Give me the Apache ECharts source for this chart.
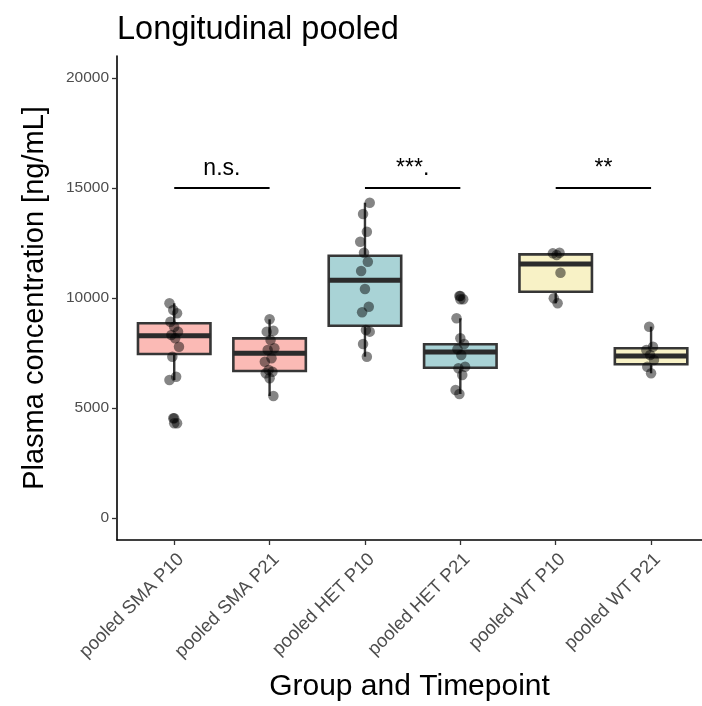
<!DOCTYPE html>
<html>
<head>
<meta charset="utf-8">
<script src="https://cdn.jsdelivr.net/npm/echarts@6/dist/echarts.min.js"></script>
<style>
  html, body { margin: 0; padding: 0; background: #ffffff; }
  #chart { width: 702px; height: 706px; }
</style>
</head>
<body>
<div id="chart"></div>
<script>
// Groups along the x axis
const categories = [
  'pooled SMA P10', 'pooled SMA P21',
  'pooled HET P10', 'pooled HET P21',
  'pooled WT P10', 'pooled WT P21'
];

// Individual plasma concentrations (ng/mL) per group
const smaP10 = [9758, 9454, 9303, 8924, 8697, 8470, 8318, 8167, 7788, 7333, 6424, 6273, 4531, 4304];
const smaP21 = [9031, 8515, 8470, 8090, 7712, 7636, 7258, 7106, 6727, 6651, 6576, 6349, 5545];
const hetP10 = [14331, 13817, 13013, 12558, 12058, 11649, 11226, 10408, 9603, 9349, 8545, 8470, 7908, 7333];
const hetP21 = [10090, 9940, 9076, 8167, 7908, 7667, 7408, 6878, 6803, 6500, 5818, 5636];
const wtP10  = [12058, 12030, 11953, 11149, 9985, 9758];
const wtP21  = [8697, 7788, 7636, 7408, 7181, 6878, 6577];
const groupValues = [smaP10, smaP21, hetP10, hetP21, wtP10, wtP21];

// Box summaries per group
const whiskerLow  = [6273, 5545, 7333, 5636, 9758, 6577];
const q1Values    = [7454, 6681, 8740, 6831, 10285, 6986];
const medianValues = [8286, 7485, 10803, 7545, 11544, 7363];
const q3Values    = [8849, 8167, 11922, 7895, 11985, 7713];
const whiskerHigh = [9758, 9031, 14331, 9076, 12058, 8697];

// Pairwise comparisons drawn above the boxes
const comparisonPairs = [[1, 2], [3, 4], [5, 6]];
const comparisonLabels = ['n.s.', '***.', '**'];
const comparisonLevel = 15000;

// Y axis ticks
const yTicks = [0, 5000, 10000, 15000, 20000];

const boxFills = ['#fbbab5', '#fbbab5', '#a9d3d6', '#a9d3d6', '#f8f2c6', '#f8f2c6'];
const FONT = '"Liberation Sans", Arial, sans-serif';
const BOX_HALF = 0.38;

const xPositions = categories.map((c, i) => i + 1);

const boxData = categories.map((c, i) => [
  i + 1, whiskerLow[i], q1Values[i], medianValues[i], q3Values[i], whiskerHigh[i]
]);

// outliers: observations beyond the whisker ends, drawn at the box centre
const outlierData = [];
groupValues.forEach((vals, i) => {
  vals.forEach(v => {
    if (v < whiskerLow[i] || v > whiskerHigh[i]) outlierData.push([i + 1, v]);
  });
});

// horizontal spread of the individual points (deterministic jitter)
const pointData = [];
groupValues.forEach((vals, i) => {
  vals.forEach((v, k) => {
    const offset = (((k * 37 + i * 5) % 11) - 5) / 100;
    pointData.push([i + 1 + offset, v]);
  });
});

const comparisonData = comparisonPairs.map((p, i) => [p[0], p[1], comparisonLevel, i]);

function renderBox(params, api) {
  const x = api.value(0);
  const lo = api.value(1), q1 = api.value(2), med = api.value(3), q3 = api.value(4), hi = api.value(5);
  const pHi = api.coord([x, hi]);
  const pLo = api.coord([x, lo]);
  const tl = api.coord([x - BOX_HALF, q3]);
  const br = api.coord([x + BOX_HALF, q1]);
  const mL = api.coord([x - BOX_HALF, med]);
  const mR = api.coord([x + BOX_HALF, med]);
  const stroke = '#363636';
  return {
    type: 'group',
    children: [
      { type: 'line', shape: { x1: pHi[0], y1: pHi[1], x2: pHi[0], y2: tl[1] },
        style: { stroke: stroke, lineWidth: 2.4 } },
      { type: 'line', shape: { x1: pLo[0], y1: br[1], x2: pLo[0], y2: pLo[1] },
        style: { stroke: stroke, lineWidth: 2.4 } },
      { type: 'rect', shape: { x: tl[0], y: tl[1], width: br[0] - tl[0], height: br[1] - tl[1] },
        style: { fill: boxFills[params.dataIndex], stroke: stroke, lineWidth: 2.6 } },
      { type: 'line', shape: { x1: mL[0], y1: mL[1], x2: mR[0], y2: mR[1] },
        style: { stroke: '#2b2b2b', lineWidth: 5 } }
    ]
  };
}

function renderComparison(params, api) {
  const a = api.coord([api.value(0), api.value(2)]);
  const b = api.coord([api.value(1), api.value(2)]);
  const label = comparisonLabels[api.value(3)];
  return {
    type: 'group',
    children: [
      { type: 'line', shape: { x1: a[0], y1: a[1], x2: b[0], y2: b[1] },
        style: { stroke: '#000', lineWidth: 2 } },
      { type: 'text', x: (a[0] + b[0]) / 2, y: a[1] - 8,
        style: { text: label, fill: '#000', font: '23px ' + FONT, align: 'center', verticalAlign: 'bottom' } }
    ]
  };
}

const chart = echarts.init(document.getElementById('chart'), null, { renderer: 'canvas' });

chart.setOption({
  animation: false,
  backgroundColor: '#ffffff',
  textStyle: { fontFamily: FONT },
  title: {
    text: 'Longitudinal pooled',
    left: 112,
    top: 9,
    textStyle: { fontSize: 32.5, fontWeight: 'normal', color: '#000', fontFamily: FONT }
  },
  grid: { left: 117, right: 0, top: 56, bottom: 166, containLabel: false, outerBoundsMode: 'none' },
  xAxis: {
    type: 'value',
    min: 0.4,
    max: 6.534,
    splitLine: { show: false },
    axisLine: { show: true, onZero: false, lineStyle: { color: '#000', width: 1.6 } },
    axisTick: { show: true, customValues: xPositions, length: 5, lineStyle: { color: '#333', width: 1.3 } },
    axisLabel: {
      customValues: xPositions,
      formatter: v => categories[Math.round(v) - 1],
      rotate: 45,
      fontSize: 18.5,
      color: '#4d4d4d',
      margin: 10,
      verticalAlign: 'top',
      fontFamily: FONT
    },
    name: 'Group and Timepoint',
    nameLocation: 'middle',
    nameGap: 132,
    nameTextStyle: { fontSize: 30, color: '#000', fontFamily: FONT }
  },
  yAxis: {
    type: 'value',
    min: -1000,
    max: 21000,
    splitLine: { show: false },
    axisLine: { show: true, onZero: false, lineStyle: { color: '#000', width: 1.6 } },
    axisTick: { show: true, customValues: yTicks, length: 5, lineStyle: { color: '#333', width: 1.3 } },
    axisLabel: {
      customValues: yTicks,
      formatter: v => String(v),
      fontSize: 15.5,
      color: '#4d4d4d',
      margin: 8,
      fontFamily: FONT
    },
    name: 'Plasma concentration [ng/mL]',
    nameLocation: 'middle',
    nameGap: 68,
    nameTextStyle: { fontSize: 29, color: '#000', fontFamily: FONT }
  },
  series: [
    {
      type: 'custom',
      name: 'boxes',
      renderItem: renderBox,
      data: boxData,
      encode: { x: 0, y: [1, 2, 3, 4, 5] },
      z: 2
    },
    {
      type: 'scatter',
      name: 'outliers',
      data: outlierData,
      symbolSize: 10.5,
      itemStyle: { color: 'rgba(0,0,0,0.6)' },
      z: 3
    },
    {
      type: 'scatter',
      name: 'observations',
      data: pointData,
      symbolSize: 10.5,
      itemStyle: { color: 'rgba(0,0,0,0.6)' },
      z: 4
    },
    {
      type: 'custom',
      name: 'comparisons',
      renderItem: renderComparison,
      data: comparisonData,
      encode: { x: [0, 1], y: 2 },
      z: 5
    }
  ]
});
</script>
</body>
</html>
